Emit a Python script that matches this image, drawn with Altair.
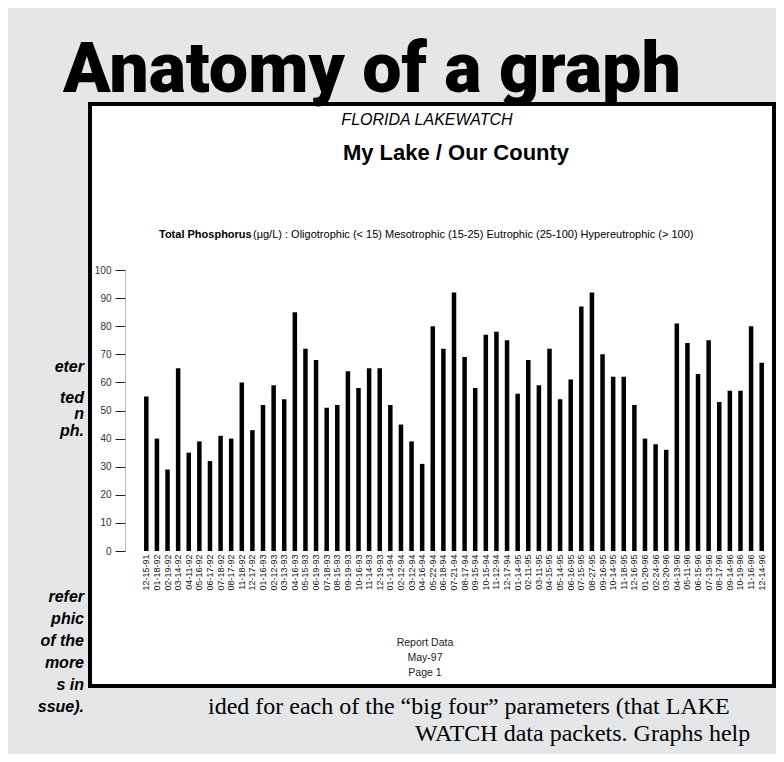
import altair as alt
import pandas as pd

# ---- data ----
dates = [
    "12-15-91", "01-18-92", "02-19-92", "03-14-92", "04-11-92", "05-16-92",
    "06-17-92", "07-18-92", "08-17-92", "11-18-92", "12-17-92", "01-16-93",
    "02-12-93", "03-13-93", "04-16-93", "05-15-93", "06-19-93", "07-18-93",
    "08-15-93", "09-19-93", "10-16-93", "11-14-93", "12-19-93", "01-14-94",
    "02-12-94", "03-12-94", "04-16-94", "05-22-94", "06-18-94", "07-21-94",
    "08-17-94", "09-15-94", "10-15-94", "11-12-94", "12-17-94", "01-14-95",
    "02-11-95", "03-11-95", "04-15-95", "05-14-95", "06-16-95", "07-15-95",
    "08-27-95", "09-16-95", "10-14-95", "11-18-95", "12-16-95", "01-20-96",
    "02-24-96", "03-20-96", "04-13-96", "05-11-96", "06-15-96", "07-13-96",
    "08-17-96", "09-14-96", "10-19-96", "11-16-96", "12-14-96",
]
tp = [
    55, 40, 29, 65, 35, 39, 32, 41, 40, 60,
    43, 52, 59, 54, 85, 72, 68, 51, 52, 64,
    58, 65, 65, 52, 45, 39, 31, 80, 72, 92,
    69, 58, 77, 78, 75, 56, 68, 59, 72, 54,
    61, 87, 92, 70, 62, 62, 52, 40, 38, 36,
    81, 74, 63, 75, 53, 57, 57, 80, 67,
]
y_ticks = [0, 10, 20, 30, 40, 50, 60, 70, 80, 90, 100]

heading = "Anatomy of a graph"
org_line = "FLORIDA LAKEWATCH"
lake_line = "My Lake / Our County"
param_bold = "Total Phosphorus"
param_rest = " (µg/L) : Oligotrophic (< 15) Mesotrophic (15-25) Eutrophic (25-100) Hypereutrophic (> 100)"
footer_lines = ["Report Data", "May-97", "Page 1"]
left_notes_top = ["eter", "ted", "n", "ph."]
left_notes_bottom = ["refer", "phic", "of the", "more", "s in", "ssue)."]
body_line1 = "ided for each of the \u201cbig four\u201d parameters (that LAKE"
body_line2 = "WATCH data packets. Graphs help"

df = pd.DataFrame({"date": dates, "tp": tp})

W, H = 684, 582
one = pd.DataFrame({"_": [0]})


def txt(text, x, y, size, font="Liberation Sans", weight="normal", style="normal",
        align="center", baseline="middle", color="black"):
    return alt.Chart(one).mark_text(
        font=font, fontSize=size, fontWeight=weight, fontStyle=style,
        align=align, baseline=baseline, color=color,
    ).encode(x=alt.value(x), y=alt.value(y), text=alt.value(text))


bars = alt.Chart(df).mark_bar(color="black", size=4.5).encode(
    x=alt.X("date:N", sort=None,
            scale=alt.Scale(range=[51, 677]),
            axis=alt.Axis(title=None, labelAngle=270, labelFont="Liberation Sans",
                          labelFontSize=9, labelColor="#111", ticks=False,
                          domain=False, offset=-(H - 447), labelPadding=3,
                          labelOverlap=False)),
    y=alt.Y("tp:Q",
            scale=alt.Scale(domain=[0, 100], range=[447, 166], nice=False),
            axis=alt.Axis(title=None, values=y_ticks, grid=False, offset=-35,
                          labelFont="Liberation Sans", labelFontSize=10,
                          labelColor="#333", tickColor="#222", tickSize=10,
                          tickWidth=1, domainColor="#999", domainWidth=0.7,
                          labelPadding=4)),
)

layers = [bars]
layers.append(txt(heading, 282, -12, 70, font="Roboto", weight=900,
                  baseline="alphabetic"))
layers.append(txt(org_line, 337, 16, 16, style="italic"))
layers.append(txt(lake_line, 366, 49, 22, weight="bold"))
layers.append(txt(param_bold, 69, 131, 11, weight="bold", align="left"))
layers.append(txt(param_rest, 163, 131, 11, align="left"))
for i, line in enumerate(footer_lines):
    layers.append(txt(line, 335, 539 + 15 * i, 10.5, color="#222"))
for line, yy in zip(left_notes_top, [263, 294, 310, 327]):
    layers.append(txt(line, -6, yy, 16, weight="bold", style="italic", align="right"))
for i, line in enumerate(left_notes_bottom):
    layers.append(txt(line, -6, 493 + 22 * i, 16, weight="bold", style="italic",
                      align="right"))
layers.append(txt(body_line1, 118, 610, 24, font="Liberation Serif",
                  align="left", baseline="alphabetic"))
layers.append(txt(body_line2, 325, 637, 24, font="Liberation Serif",
                  align="left", baseline="alphabetic"))

chart = alt.layer(*layers).properties(
    width=W, height=H,
    autosize=alt.AutoSizeParams(type="none"),
    padding={"left": 82, "top": 96, "right": 2, "bottom": 746 - 96 - H},
).configure(background="#e5e6e8").configure_view(
    fill="white", stroke="black", strokeWidth=4
)

chart.save("out.html", embed_options={"renderer": "svg", "actions": False})
